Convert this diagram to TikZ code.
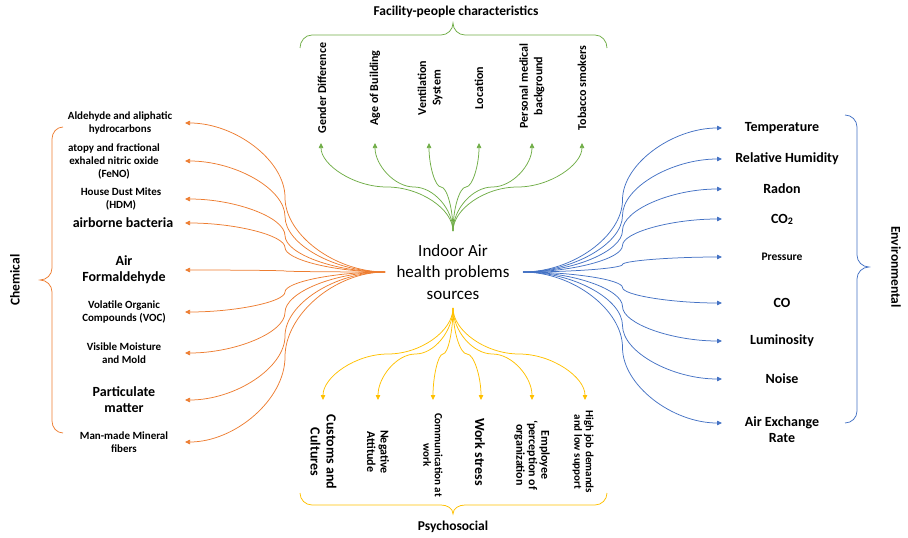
\documentclass[tikz,border=0pt]{standalone}
\usepackage{fontspec}
\setmainfont{Carlito}
\usetikzlibrary{arrows.meta,calc}
\definecolor{corange}{HTML}{ED7D31}
\definecolor{cblue}{HTML}{4472C4}
\definecolor{cgreen}{HTML}{70AD47}
\definecolor{cyellow}{HTML}{FFC000}
\begin{document}
\begin{tikzpicture}[x=1pt,y=-1pt,
  conn/.style={line width=0.75pt,-{Triangle[length=5pt,width=4.5pt]}},
  hcurve/.style={to path={let \p1=(\tikztostart), \p2=(\tikztotarget) in
     .. controls ({0.75*\x1+0.25*\x2},\y1) and ({0.5*\x1+0.5*\x2},{0.75*\y1+0.25*\y2})
     .. ({0.5*\x1+0.5*\x2},{0.5*\y1+0.5*\y2})
     .. controls ({0.5*\x1+0.5*\x2},{0.25*\y1+0.75*\y2}) and ({0.25*\x1+0.75*\x2},\y2)
     .. (\tikztotarget)}},
  vcurve/.style={to path={let \p1=(\tikztostart), \p2=(\tikztotarget) in
     .. controls (\x1,{0.75*\y1+0.25*\y2}) and ({0.75*\x1+0.25*\x2},{0.5*\y1+0.5*\y2})
     .. ({0.5*\x1+0.5*\x2},{0.5*\y1+0.5*\y2})
     .. controls ({0.25*\x1+0.75*\x2},{0.5*\y1+0.5*\y2}) and (\x2,{0.25*\y1+0.75*\y2})
     .. (\tikztotarget)}},
  bracket/.style={line width=0.75pt},
  lbl/.style={font=\bfseries\fontsize{11}{13}\selectfont,align=center,inner sep=0pt},
  big/.style={font=\bfseries\fontsize{14}{16}\selectfont,align=center,inner sep=0pt},
  rlbl/.style={font=\bfseries\fontsize{14}{16}\selectfont,align=center,inner sep=0pt},
  glbl/.style={font=\bfseries\fontsize{12}{14.5}\selectfont,align=center,inner sep=0pt,rotate=90},
  ylbl/.style={align=center,inner sep=0pt,rotate=-90},
  title/.style={font=\bfseries\fontsize{13.5}{15}\selectfont,inner sep=0pt}
]
\useasboundingbox (0,0) rectangle (908,538);

% center
\node[align=center,inner sep=0pt,font=\fontsize{17}{21.5}\selectfont] (center) at (453,272) {Indoor Air\\health problems\\sources};

% hubs
\coordinate (ho) at (385,272);
\coordinate (hb) at (523,272);
\coordinate (hg) at (453,231);
\coordinate (hy) at (453,308);

% ---------- Chemical (left, orange) ----------
\node[lbl] (c1) at (120,122.5) {Aldehyde and aliphatic\\hydrocarbons};
\node[lbl] (c2) at (114,161) {atopy and fractional\\exhaled nitric oxide\\(FeNO)};
\node[lbl] (c3) at (121,198.5) {House Dust Mites\\(HDM)};
\node[big] (c4) at (123,223) {airborne bacteria};
\node[big] (c5) at (124,269.5) {Air\\Formaldehyde};
\node[lbl] (c6) at (124,312) {Volatile Organic\\Compounds (VOC)};
\node[lbl] (c7) at (124,353) {Visible Moisture\\and Mold};
\node[big] (c8) at (124,400) {Particulate\\matter};
\node[lbl] (c9) at (124,442) {Man-made Mineral\\fibers};
\foreach \i/\y in {1/123,2/161,3/199,4/223,5/270,6/312,7/353,8/400,9/442}
  \coordinate (to\i) at (185,\y);
\foreach \i in {1,...,9}
  \draw[conn,corange] (ho) to[hcurve] (to\i);
\draw[bracket,corange] (63,127) to[out=180,in=90] (52,139) -- (52,268) to[out=-90,in=0] (40,280) to[out=0,in=90] (52,292) -- (52,421) to[out=-90,in=180] (63,433);
\node[title,rotate=90] (chem) at (15,280) {Chemical};

% ---------- Environmental (right, blue) ----------
\node[rlbl] (e1) at (782,128) {Temperature};
\node[rlbl] (e2) at (787,159) {Relative Humidity};
\node[rlbl] (e3) at (782,189) {Radon};
\node[rlbl] (e4) at (782,219) {CO\raisebox{-1pt}{\fontsize{10}{12}\selectfont 2}};
\node[lbl,font=\bfseries\fontsize{11.5}{13}\selectfont] (e5) at (782,257) {Pressure};
\node[rlbl] (e6) at (782,303) {CO};
\node[rlbl] (e7) at (782,341) {Luminosity};
\node[rlbl] (e8) at (782,379) {Noise};
\node[rlbl] (e9) at (782,429.5) {Air Exchange\\Rate};
\foreach \i/\y in {1/128,2/159,3/189,4/219,5/257,6/303,7/341,8/379,9/423}
  \coordinate (tb\i) at (722,\y);
\foreach \i in {1,...,9}
  \draw[conn,cblue] (hb) to[hcurve] (tb\i);
\draw[bracket,cblue] (845,115) to[out=0,in=90] (857,127) -- (857,255) to[out=-90,in=180] (869,267) to[out=180,in=90] (857,279) -- (857,411) to[out=-90,in=0] (845,423);
\node[title,rotate=-90] (env) at (896,267) {Environmental};

% ---------- Facility-people (top, green) ----------
\node[glbl] (f1) at (322,88) {Gender Difference};
\node[glbl] (f2) at (375,88) {Age of Building};
\node[glbl] (f3) at (430,88) {Ventilation\\System};
\node[glbl] (f4) at (479,88) {Location};
\node[glbl] (f5) at (532,86) {Personal medical\\background};
\node[glbl] (f6) at (582,88) {Tobacco smokers};
\foreach \i/\x in {1/321,2/375,3/429,4/479,5/532,6/582}
  \coordinate (tg\i) at (\x,143);
\foreach \i in {1,...,6}
  \draw[conn,cgreen] (hg) to[vcurve] (tg\i);
\draw[bracket,cgreen] (300,48) to[out=90,in=180] (312,35) -- (441,35) to[out=0,in=-90] (453,23) to[out=-90,in=180] (465,35) -- (595,35) to[out=0,in=90] (607,48);
\node[title] (fac) at (456,12) {Facility-people characteristics};

% ---------- Psychosocial (bottom, yellow) ----------
\node[ylbl,font=\bfseries\fontsize{14}{16}\selectfont] (p1) at (323.5,452) {Customs and\\Cultures};
\node[ylbl,font=\bfseries\fontsize{12}{13.5}\selectfont] (p2) at (378,452) {Negative\\Attitude};
\node[ylbl,font=\bfseries\fontsize{11}{11.5}\selectfont] (p3) at (433,455) {Communication at\\work};
\node[ylbl,font=\bfseries\fontsize{14}{16}\selectfont] (p4) at (480,452) {Work stress};
\node[ylbl,font=\bfseries\fontsize{12}{12.5}\selectfont] (p5) at (532,455) {Employee\\`perception of\\organization};
\node[ylbl,font=\bfseries\fontsize{11}{11.5}\selectfont] (p6) at (583,452) {High job demands\\and low support};
\foreach \i/\x in {1/323,2/378,3/433,4/481,5/532,6/585}
  \coordinate (ty\i) at (\x,400);
\foreach \i in {1,...,6}
  \draw[conn,cyellow] (hy) to[vcurve] (ty\i);
\draw[bracket,cyellow] (300,493) to[out=-90,in=180] (312,505) -- (441,505) to[out=0,in=90] (453,514) to[out=90,in=180] (465,505) -- (595,505) to[out=0,in=-90] (607,493);
\node[title] (psy) at (453,527) {Psychosocial};
\end{tikzpicture}
\end{document}
